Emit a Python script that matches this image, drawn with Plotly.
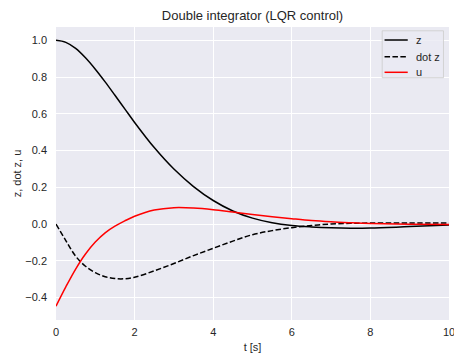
import plotly.graph_objects as go

t = [0, 0.25, 0.5, 0.75, 1.0, 1.25, 1.5, 1.75, 2.0, 2.5, 3.0, 3.5, 4.0, 4.5, 5.0, 5.5, 6.0, 6.5, 7.0, 7.5, 8.0, 9.0, 10.0]
z = [1.0, 0.989, 0.956, 0.905, 0.843, 0.774, 0.701, 0.627, 0.553, 0.416, 0.299, 0.204, 0.128, 0.071, 0.032, 0.007, -0.008, -0.016, -0.021, -0.023, -0.022, -0.014, -0.006]
dz = [0.0, -0.09, -0.175, -0.23, -0.265, -0.287, -0.297, -0.298, -0.29, -0.255, -0.215, -0.172, -0.132, -0.093, -0.058, -0.036, -0.020, -0.008, 0.0, 0.004, 0.005, 0.006, 0.006]
u = [-0.447, -0.342, -0.245, -0.163, -0.098, -0.048, -0.012, 0.017, 0.042, 0.076, 0.089, 0.087, 0.078, 0.065, 0.052, 0.040, 0.029, 0.019, 0.012, 0.007, 0.003, -0.001, -0.003]

series_names = ["z", "dot z", "u"]
xticks = [0, 2, 4, 6, 8, 10]
yticks = [-0.4, -0.2, 0.0, 0.2, 0.4, 0.6, 0.8, 1.0]
ytick_text = ["\u22120.4", "\u22120.2", "0.0", "0.2", "0.4", "0.6", "0.8", "1.0"]

# styles (kept separate from the data)
styles = {
    "z": dict(color="black", dash="solid"),
    "dot z": dict(color="black", dash="5.5px,2.4px"),
    "u": dict(color="red", dash="solid"),
}

FONT = "Liberation Sans, Arial, sans-serif"
TXT = "#262626"

fig = go.Figure()
for name, ys in zip(series_names, [z, dz, u]):
    st = styles[name]
    fig.add_trace(go.Scatter(x=t, y=ys, mode="lines", name=name, showlegend=False,
                             line=dict(color=st["color"], width=1.5, dash=st["dash"],
                                       shape="spline")))

# legend box drawn like matplotlib's (paper coordinates)
lx0, lx1, ly0, ly1 = 0.830, 0.986, 0.827, 0.987
fig.add_shape(type="rect", xref="paper", yref="paper", x0=lx0, x1=lx1, y0=ly0, y1=ly1,
              fillcolor="rgba(234,234,242,0.8)", line=dict(color="rgba(204,204,204,0.8)", width=1),
              layer="above")
row_y = [0.9556, 0.8986, 0.8454]
for name, yy in zip(series_names, row_y):
    st = styles[name]
    fig.add_shape(type="line", xref="paper", yref="paper", x0=0.836, x1=0.895, y0=yy, y1=yy,
                  line=dict(color=st["color"], width=1.5, dash=st["dash"]), layer="above")
    fig.add_annotation(xref="paper", yref="paper", x=0.912, y=yy, text=name, showarrow=False,
                       xanchor="left", yanchor="middle", font=dict(size=11, color=TXT))

fig.update_layout(
    width=454, height=354,
    margin=dict(l=56, r=4.5, t=27, b=34, autoexpand=False),
    paper_bgcolor="white",
    plot_bgcolor="#EAEAF2",
    showlegend=False,
    font=dict(family=FONT, size=11, color=TXT),
    title=dict(text="Double integrator (LQR control)", x=0.5, xref="paper", xanchor="center",
               y=1 - 15.5 / 354, yref="container", yanchor="middle",
               font=dict(size=13, color=TXT)),
    xaxis=dict(range=[0, 10], tickvals=xticks, gridcolor="white", gridwidth=1,
               zeroline=False, showline=False, ticks="", ticklabelstandoff=4,
               ticklabeloverflow="allow", automargin=False,
               title=dict(text="t [s]", standoff=6, font=dict(size=11))),
    yaxis=dict(range=[-0.5225, 1.0725], tickvals=yticks, ticktext=ytick_text,
               gridcolor="white", gridwidth=1, zeroline=False, showline=False,
               ticks="", ticklabelstandoff=8, automargin=False,
               title=dict(text="z, dot z, u", standoff=1, font=dict(size=11))),
)

fig.write_html("out.html", config={"displayModeBar": False},
               post_script="document.body.style.margin='0';document.body.style.overflow='hidden';")
